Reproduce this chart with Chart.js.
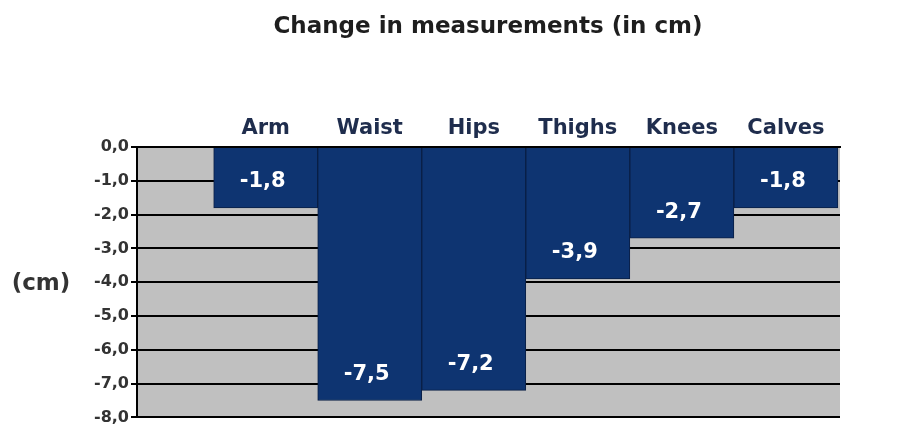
<!DOCTYPE html>
<html>
<head>
<meta charset="utf-8">
<script src="https://cdn.jsdelivr.net/npm/chart.js@4.4.1/dist/chart.umd.min.js"></script>
<style>
  html, body { margin: 0; padding: 0; background: #ffffff; }
  #wrap { width: 906px; height: 429px; }
</style>
</head>
<body>
<div id="wrap"><canvas id="c" width="906" height="429"></canvas></div>
<script>
const categories = ['Arm', 'Waist', 'Hips', 'Thighs', 'Knees', 'Calves'];
const changes = [-1.8, -7.5, -7.2, -3.9, -2.7, -1.8];
const slotPositions = [0.5, 1.5, 2.5, 3.5, 4.5, 5.5];
const titleText = 'Change in measurements (in cm)';
const yAxisTitle = '(cm)';

const fmt = v => v.toFixed(1).replace('.', ',');

const decor = {
  id: 'decor',
  beforeDraw(chart) {
    const { ctx, chartArea: a } = chart;
    ctx.save();
    ctx.fillStyle = '#c0c0c0';
    ctx.fillRect(a.left, a.top, a.right - a.left, a.bottom - a.top);
    ctx.restore();
  },
  afterDraw(chart) {
    const { ctx } = chart;
    ctx.save();
    ctx.fillStyle = '#1e1e1e';
    ctx.font = 'bold 23px "DejaVu Sans"';
    ctx.textAlign = 'center';
    ctx.textBaseline = 'middle';
    ctx.fillText(titleText, 488, 27);
    ctx.fillStyle = '#333333';
    ctx.font = 'bold 23px "DejaVu Sans"';
    ctx.fillText(yAxisTitle, 41, 284);
    // value labels inside bars
    const meta = chart.getDatasetMeta(0);
    ctx.fillStyle = '#ffffff';
    ctx.font = 'bold 21px "DejaVu Sans"';
    meta.data.forEach((bar, i) => {
      ctx.fillText(fmt(changes[i]), bar.x - 3, bar.y - 26);
    });
    ctx.restore();
  }
};

new Chart(document.getElementById('c'), {
  type: 'bar',
  data: {
    datasets: [{
      data: slotPositions.map((x, i) => ({ x: x, y: changes[i] })),
      backgroundColor: '#0e3471',
      borderColor: '#0a1f45',
      borderWidth: 1,
      barPercentage: 1,
      categoryPercentage: 1
    }]
  },
  options: {
    responsive: false,
    animation: false,
    layout: { padding: { top: 107, bottom: 9, right: 66, left: 0 } },
    plugins: { legend: { display: false }, tooltip: { enabled: false }, title: { display: false } },
    scales: {
      x: {
        type: 'linear',
        position: 'top',
        offset: false,
        min: -0.737,
        max: 6.02,
        afterBuildTicks: s => { s.ticks = slotPositions.map(v => ({ value: v })); },
        afterFit: s => { s.height = 40; },
        grid: { display: false, drawTicks: false },
        border: { display: true, color: '#000000', width: 2 },
        ticks: {
          autoSkip: false,
          maxRotation: 0,
          padding: 6,
          color: '#1f2d4d',
          font: { family: 'DejaVu Sans', weight: 'bold', size: 21 },
          callback: v => categories[Math.round(v - 0.5)]
        }
      },
      y: {
        min: -8,
        max: 0,
        afterFit: s => { s.width = 137; },
        grid: { color: '#000000', lineWidth: 2, tickLength: 6, drawTicks: true },
        border: { display: true, color: '#000000', width: 2 },
        ticks: {
          stepSize: 1,
          padding: 2,
          color: '#333333',
          font: { family: 'DejaVu Sans', weight: 'bold', size: 16 },
          callback: v => fmt(v)
        }
      }
    }
  },
  plugins: [decor]
});
</script>
</body>
</html>
